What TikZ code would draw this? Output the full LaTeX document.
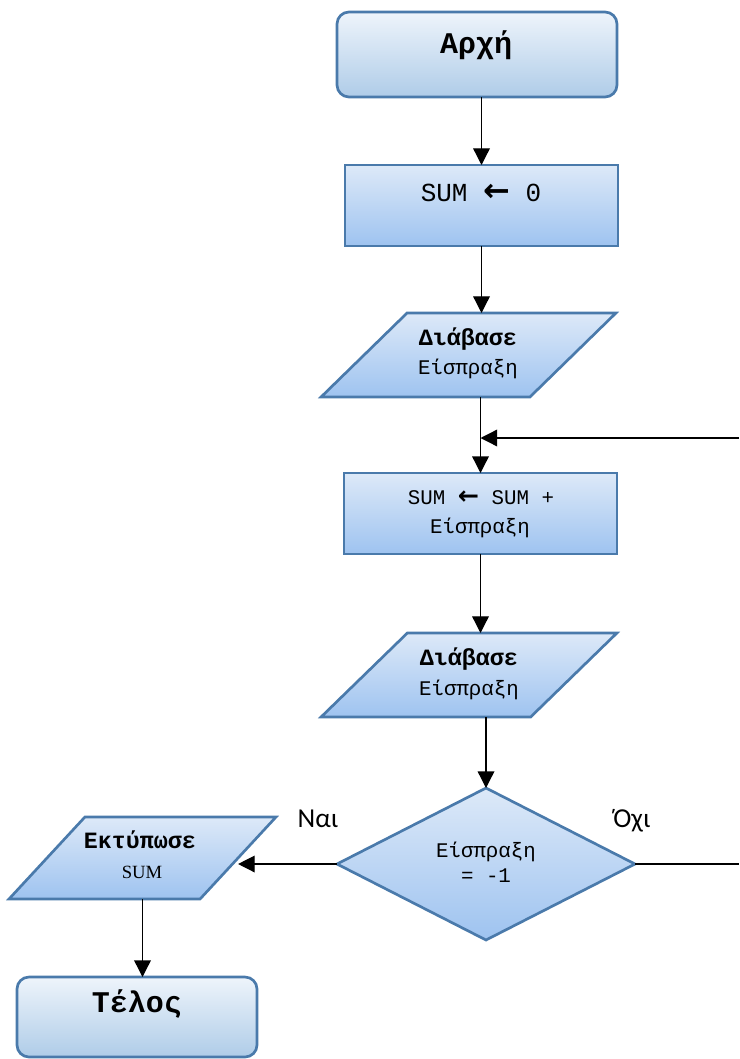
\documentclass[tikz,border=0pt]{standalone}
\usepackage{fontspec}
\setmainfont{Liberation Serif}
\newfontfamily\mono{Liberation Mono}
\newfontfamily\arrfont{DejaVu Sans}
\newfontfamily\labfont{Carlito}
\usetikzlibrary{shapes.geometric,arrows.meta}
\definecolor{bord}{HTML}{4A7AAB}
\definecolor{tcT}{HTML}{EEF4FB}
\definecolor{tcB}{HTML}{AFCCE8}
\definecolor{pcT}{HTML}{DDE9F8}
\definecolor{pcB}{HTML}{9EC3F0}
\tikzset{
  term/.style={draw=bord, line width=2pt, rounded corners=9pt, top color=tcT, bottom color=tcB, outer sep=0pt, inner sep=0pt},
  proc/.style={draw=bord, line width=2pt, top color=pcT, bottom color=pcB, outer sep=0pt, inner sep=0pt},
  iobox/.style={proc, trapezium, trapezium stretches=true, inner sep=2pt},
  decbox/.style={proc, diamond, inner sep=2pt},
  conn/.style={line width=1pt, -{Triangle[length=12.5pt,width=12.5pt]}},
  noarr/.style={line width=1pt},
  txt/.style={anchor=base, inner sep=0pt, outer sep=0pt},
  big/.style={font=\mono\bfseries\fontsize{22.5pt}{27pt}\selectfont},
  midt/.style={font=\mono\fontsize{19.5pt}{23pt}\selectfont},
  smt/.style={font=\mono\fontsize{15.6pt}{19pt}\selectfont},
  bsmt/.style={font=\mono\bfseries\fontsize{17.5pt}{21pt}\selectfont},
  lab/.style={anchor=base, inner sep=0pt, font=\labfont\fontsize{20.5pt}{24pt}\selectfont},
}
\newcommand{\larr}[1]{{\arrfont\bfseries\fontsize{#1}{#1}\selectfont ←}}
\begin{document}
\begin{tikzpicture}[x=0.75pt,y=-0.75pt]
\useasboundingbox (0,0) rectangle (739,1059);
% shapes
\node[term, minimum width=210pt, minimum height=63.75pt] (start) at (477,54.5) {};
\node[proc, minimum width=204.75pt, minimum height=60.75pt] (box1) at (481.5,205.5) {};
\node[iobox, minimum width=221.25pt, minimum height=63pt, trapezium left angle=55, trapezium right angle=125] (para1) at (468.5,355) {};
\node[proc, minimum width=204.75pt, minimum height=60.75pt] (box2) at (480.5,513.5) {};
\node[iobox, minimum width=222pt, minimum height=63pt, trapezium left angle=55, trapezium right angle=125] (para2) at (469,675) {};
\node[decbox, minimum width=223.5pt, minimum height=114pt] (dec) at (486,864) {};
\node[iobox, minimum width=200.25pt, minimum height=61.5pt, trapezium left angle=56.6, trapezium right angle=123.4] (para3) at (142.5,858) {};
\node[term, minimum width=180pt, minimum height=60pt] (end) at (137,1017) {};
% texts
\node[txt, big] (startT) at (476,54) {Αρχή};
\node[txt, midt] (box1T) at (481,202) {SUM \larr{24pt} 0};
\node[txt, bsmt] (p1a) at (468,345) {Διάβασε};
\node[txt, smt] (p1b) at (468,374) {Είσπραξη};
\node[txt, smt] (b2a) at (481,504) {SUM \larr{19pt} SUM +};
\node[txt, smt] (b2b) at (480,533) {Είσπραξη};
\node[txt, bsmt] (p2a) at (469,665) {Διάβασε};
\node[txt, smt] (p2b) at (469,695) {Είσπραξη};
\node[txt, smt] (da) at (486,857) {Είσπραξη};
\node[txt, smt] (db) at (486,882) {= -1};
\node[txt, bsmt] (p3a) at (140,848) {Εκτύπωσε};
\node[txt, font=\fontsize{14pt}{16pt}\selectfont] (p3b) at (142,878) {SUM};
\node[txt, big] (endT) at (137,1012) {Τέλος};
\node[lab] (yes) at (318,827) {Ναι};
\node[lab] (no) at (632,827) {Όχι};
% free ends
\coordinate (loopin) at (739,438);
\coordinate (noout) at (739,864);
% connectors
\draw[conn] (start.south -| box1.north) -- (box1.north);
\draw[conn] (box1.south) -- (para1.north -| box1.south);
\draw[conn] (para1.south -| box2.north) -- (box2.north);
\draw[conn] (loopin) -- (loopin -| box2.north);
\draw[conn] (box2.south) -- (para2.north -| box2.south);
\draw[conn] (para2.south -| dec.north) -- (dec.north);
\draw[conn] (dec.west) -- (dec.west -| para3.east);
\draw[conn] (para3.south) -- (para3.south |- end.north);
\draw[noarr] (dec.east) -- (noout);
\end{tikzpicture}
\end{document}
